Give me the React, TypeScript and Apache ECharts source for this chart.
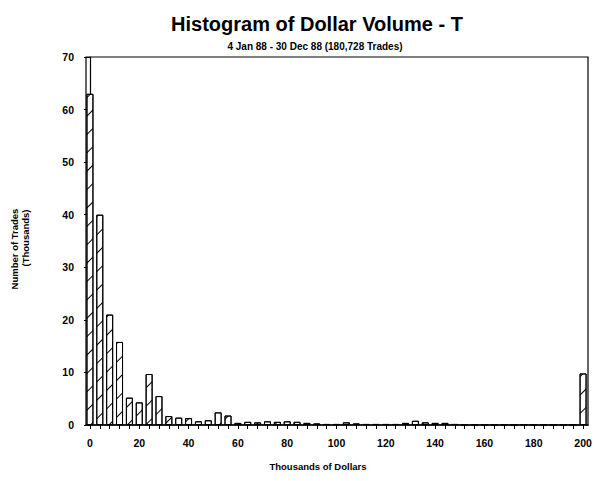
import React, { useEffect, useRef } from "react";
import * as echarts from "echarts";

const titleText = "Histogram of Dollar Volume - T";
const subtitleText = "4 Jan 88 - 30 Dec 88 (180,728 Trades)";
const yAxisTitle1 = "Number of Trades";
const yAxisTitle2 = "(Thousands)";
const xAxisTitle = "Thousands of Dollars";

// bin positions, thousands of dollars (last bin = 200 and over)
const binStarts = [
  0, 4, 8, 12, 16, 20, 24, 28, 32, 36, 40, 44, 48, 52, 56, 60, 64, 68, 72, 76,
  80, 84, 88, 92, 96, 100, 104, 108, 112, 116, 120, 124, 128, 132, 136, 140,
  144, 148, 152, 156, 160, 164, 168, 172, 176, 180, 184, 188, 192, 196, 200,
];
// number of trades, thousands
const tradeCounts = [
  63, 40, 21, 15.8, 5.2, 4.3, 9.7, 5.5, 1.7, 1.4, 1.3, 0.7, 0.9, 2.4, 1.8, 0.4,
  0.6, 0.5, 0.7, 0.6, 0.7, 0.6, 0.4, 0.3, 0.2, 0.2, 0.5, 0.3, 0.2, 0.2, 0.2,
  0.2, 0.4, 0.8, 0.5, 0.4, 0.4, 0.2, 0.1, 0.1, 0.1, 0.1, 0.1, 0.1, 0.1, 0.1,
  0.1, 0.1, 0.1, 0.1, 9.8,
];
const xLabelValues = [0, 20, 40, 60, 80, 100, 120, 140, 160, 180, 200];

export default function App() {
  const ref = useRef<HTMLDivElement>(null);
  useEffect(() => {
    document.body.style.margin = "0";
    if (!ref.current) return;
    const chart = echarts.init(ref.current, null, { renderer: "svg" });
    const font = "'Liberation Sans', Arial, sans-serif";
    const data = binStarts.map((x, i) => [x, tradeCounts[i]]);
    chart.setOption({
      animation: false,
      backgroundColor: "#fff",
      grid: {
        left: 86,
        right: 8,
        top: 57,
        bottom: 56,
        show: true,
        borderColor: "#000",
        borderWidth: 1.2,
        backgroundColor: "transparent",
      },
      graphic: [
        {
          type: "text",
          x: 317,
          y: 24,
          style: {
            text: titleText,
            fontFamily: font,
            fontSize: 20,
            fontWeight: "bold",
            fill: "#000",
            align: "center",
            verticalAlign: "middle",
          },
        },
        {
          type: "text",
          x: 315,
          y: 46,
          style: {
            text: subtitleText,
            fontFamily: font,
            fontSize: 10,
            fontWeight: "bold",
            fill: "#000",
            align: "center",
            verticalAlign: "middle",
          },
        },
        {
          type: "text",
          x: 14,
          y: 249,
          rotation: Math.PI / 2,
          style: {
            text: yAxisTitle1,
            fontFamily: font,
            fontSize: 9.5,
            fontWeight: "bold",
            fill: "#000",
            align: "center",
            verticalAlign: "middle",
          },
        },
        {
          type: "text",
          x: 25,
          y: 238,
          rotation: Math.PI / 2,
          style: {
            text: yAxisTitle2,
            fontFamily: font,
            fontSize: 9.5,
            fontWeight: "bold",
            fill: "#000",
            align: "center",
            verticalAlign: "middle",
          },
        },
        {
          type: "text",
          x: 318,
          y: 466,
          style: {
            text: xAxisTitle,
            fontFamily: font,
            fontSize: 9.5,
            fontWeight: "bold",
            fill: "#000",
            align: "center",
            verticalAlign: "middle",
          },
        },
      ],
      xAxis: {
        type: "value",
        min: -1.6,
        max: 202,
        splitLine: { show: false },
        axisLine: { show: true, onZero: false, lineStyle: { color: "#000", width: 1.5 } },
        axisTick: {
          show: true,
          customValues: binStarts,
          length: 4,
          lineStyle: { color: "#000", width: 1 },
        },
        axisLabel: {
          customValues: xLabelValues,
          color: "#000",
          fontFamily: font,
          fontWeight: "bold",
          fontSize: 10.5,
          margin: 12,
        },
      },
      yAxis: {
        type: "value",
        min: 0,
        max: 70,
        interval: 10,
        splitLine: { show: false },
        axisLine: { show: true, lineStyle: { color: "#000", width: 1.2 } },
        axisTick: { show: true, length: 6, lineStyle: { color: "#000" } },
        axisLabel: {
          color: "#000",
          fontFamily: font,
          fontWeight: "bold",
          fontSize: 10.5,
          margin: 12,
        },
      },
      series: [
        {
          type: "bar",
          data,
          barWidth: 7,
          itemStyle: {
            color: "#fff",
            borderColor: "#000",
            borderWidth: 1,
            decal: {
              symbol: "rect",
              color: "#000",
              backgroundColor: "#fff",
              dashArrayX: [1, 0],
              dashArrayY: [1, 12],
              rotation: -Math.PI / 4,
              symbolSize: 1,
            },
          },
        },
      ],
    });
    return () => chart.dispose();
  }, []);
  return <div ref={ref} style={{ width: 596, height: 481 }} />;
}
